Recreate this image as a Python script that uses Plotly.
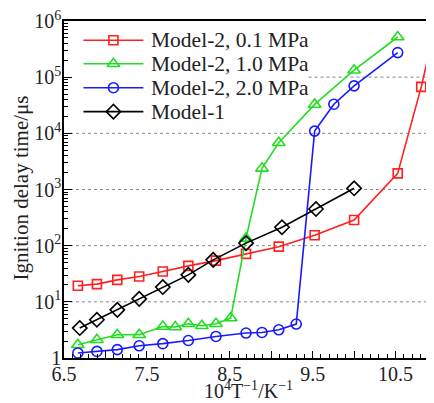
import plotly.graph_objects as go

# ---------------- data ----------------
red_x = [6.667, 6.897, 7.143, 7.407, 7.692, 8.0, 8.333, 8.696, 9.091, 9.524, 10.0, 10.526, 10.81, 11.111]
red_y = [19.3, 20.7, 24.6, 28.2, 34.6, 43.7, 54.2, 71.4, 96, 153, 287, 1940, 67100, 5500000]

green_x = [6.667, 6.897, 7.143, 7.407, 7.692, 7.843, 8.0, 8.163, 8.333, 8.511, 8.696, 8.889, 9.091, 9.524, 10.0, 10.526]
green_y = [1.72, 2.11, 2.6, 2.6, 3.64, 3.56, 4.07, 3.75, 4.07, 5.14, 135, 2380, 6790, 32700, 133000, 519000]

blue_x = [6.667, 6.897, 7.143, 7.407, 7.692, 8.0, 8.333, 8.696, 8.889, 9.091, 9.302, 9.524, 9.756, 10.0, 10.526]
blue_y = [1.23, 1.31, 1.41, 1.65, 1.80, 2.05, 2.42, 2.78, 2.85, 3.18, 4.02, 10960, 33000, 70000, 274000]

black_x = [6.69, 6.897, 7.143, 7.407, 7.692, 8.0, 8.3, 8.696, 9.13, 9.54, 10.0]
black_y = [3.41, 4.8, 7.2, 11.3, 18.3, 30.2, 55.9, 111, 213, 450, 1050]

series_names = ["Model-2, 0.1 MPa", "Model-2, 1.0 MPa", "Model-2, 2.0 MPa", "Model-1"]
series_colors = ["#ff2020", "#22dd22", "#1a1aff", "#000000"]
series_symbols = ["square-open", "triangle-up-open", "circle-open", "diamond-open"]
series_sizes = [9, 11, 10, 11]

x_tickvals = [6.5, 7.0, 7.5, 8.0, 8.5, 9.0, 9.5, 10.0, 10.5]
x_ticktext = ["6.5", "", "7.5", "", "8.5", "", "9.5", "", "10.5"]
y_tickvals = [1, 10, 100, 1000, 10000, 100000, 1000000]
y_ticktext = ["1", "10<sup>1</sup>", "10<sup>2</sup>", "10<sup>3</sup>", "10<sup>4</sup>", "10<sup>5</sup>", "10<sup>6</sup>"]
grid_decades = [1, 2, 3, 4, 5]

FONT = "Liberation Serif, Times New Roman, serif"
TXT = "#222"
X_MIN, X_MAX = 6.5, 10.964
LEGEND_RIGHT_X = 9.45   # data-x where the legend box ends

# The page body has an 8 px margin, so the figure is 8 px smaller and every
# layout position is expressed relative to the reference picture minus 8 px.
PAGE_OFFSET = 8
W, H = 434 - PAGE_OFFSET, 403 - PAGE_OFFSET
PLOT_L, PLOT_T, PLOT_B = 63.5, 20.7, 358.3      # reference-picture pixels
PLOT_R = 434

fig = go.Figure()

all_x = [red_x, green_x, blue_x, black_x]
all_y = [red_y, green_y, blue_y, black_y]
for xs, ys, c, s, sz in zip(all_x, all_y, series_colors, series_symbols, series_sizes):
    fig.add_trace(go.Scatter(
        x=xs, y=ys, mode="lines+markers", showlegend=False,
        line=dict(color=c, width=1.6),
        marker=dict(symbol=s, size=sz, color=c, line=dict(width=1.6, color=c)),
    ))

# dotted horizontal grid lines (the one behind the legend starts after the legend box)
for d in grid_decades:
    x0 = LEGEND_RIGHT_X if d == 5 else X_MIN
    fig.add_shape(type="line", xref="x", yref="paper", x0=x0, x1=X_MAX, y0=d / 6, y1=d / 6,
                  line=dict(color="#888", width=1, dash="dot"), layer="below")

# ---------------- custom legend (overlay axes in reference-pixel units) ----------------
legend_rows = [40, 63.5, 87.5, 111.5]
for name, c, s, sz, ry in zip(series_names, series_colors, series_symbols, series_sizes, legend_rows):
    fig.add_trace(go.Scatter(
        x=[83, 143], y=[ry, ry], xaxis="x2", yaxis="y2", mode="lines",
        line=dict(color=c, width=1.6), showlegend=False, hoverinfo="skip"))
    fig.add_trace(go.Scatter(
        x=[113], y=[ry], xaxis="x2", yaxis="y2", mode="markers",
        marker=dict(symbol=s, size=sz, color=c, line=dict(width=1.6, color=c)),
        showlegend=False, hoverinfo="skip"))
    fig.add_annotation(x=149, y=ry, xref="x2", yref="y2", text=name, showarrow=False,
                       xanchor="left", yanchor="middle",
                       font=dict(family=FONT, size=21.5, color=TXT))

# axis titles
pw = PLOT_R - PLOT_L
ph = PLOT_B - PLOT_T
fig.add_annotation(x=(248 - PLOT_L) / pw, y=(PLOT_B - 390) / ph, xref="paper", yref="paper",
                   yanchor="middle",
                   text="10<sup>4</sup>T<sup>\u22121</sup>/K<sup>\u22121</sup>", showarrow=False,
                   font=dict(family=FONT, size=20, color=TXT))
fig.add_annotation(x=(20 - PLOT_L) / pw, y=(PLOT_B - 188) / ph, xref="paper", yref="paper",
                   xanchor="center", yanchor="middle",
                   text="Ignition delay time/\u03bcs", textangle=-90, showarrow=False,
                   font=dict(family=FONT, size=21, color=TXT))

fig.update_layout(
    width=W, height=H,
    margin=dict(l=PLOT_L - PAGE_OFFSET, r=0, t=PLOT_T - PAGE_OFFSET,
                b=H - (PLOT_B - PAGE_OFFSET), autoexpand=False),
    paper_bgcolor="white", plot_bgcolor="white",
    font=dict(family=FONT, size=20, color=TXT),
    xaxis=dict(
        range=[X_MIN, X_MAX], showline=True, linecolor="black", linewidth=1.5, mirror=True,
        ticks="inside", ticklen=7, tickwidth=1.3, tickcolor="black", automargin=False,
        tickvals=x_tickvals, ticktext=x_ticktext, showgrid=False, zeroline=False,
        minor=dict(ticks="inside", ticklen=4, dtick=0.1, tickcolor="black", showgrid=False),
        tickfont=dict(family=FONT, size=20, color=TXT), ticklabelstandoff=-3,
        ticklabeloverflow="allow",
    ),
    yaxis=dict(
        type="log", range=[0, 6], showline=True, linecolor="black", linewidth=1.5, mirror=True,
        ticks="inside", ticklen=8, tickwidth=1.3, tickcolor="black", automargin=False,
        tickvals=y_tickvals, ticktext=y_ticktext,
        showgrid=False, zeroline=False,
        minor=dict(ticks="inside", ticklen=4, dtick="D1", tickcolor="black", showgrid=False),
        tickfont=dict(family=FONT, size=20, color=TXT), ticklabelstandoff=-3,
        ticklabeloverflow="allow",
    ),
    xaxis2=dict(overlaying="x", range=[PLOT_L, PLOT_R], visible=False, fixedrange=True),
    yaxis2=dict(overlaying="y", range=[PLOT_B, PLOT_T], visible=False, fixedrange=True),
)

fig.write_html("out.html")
